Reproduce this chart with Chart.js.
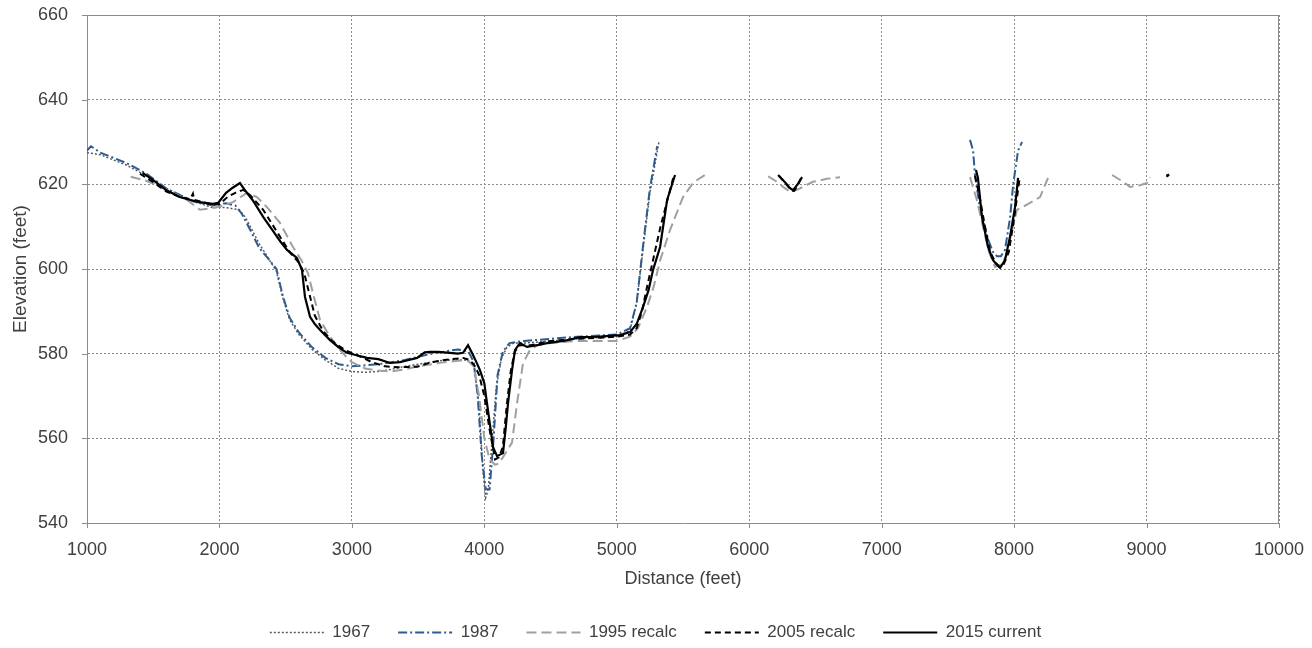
<!DOCTYPE html>
<html>
<head>
<meta charset="utf-8">
<script src="https://cdn.jsdelivr.net/npm/chart.js@4/dist/chart.umd.min.js"></script>
<style>
html,body{margin:0;padding:0;background:#fff;}
#c{display:block;}
</style>
</head>
<body>
<canvas id="c" width="1312" height="648"></canvas>
<script>
// ---- Data (distance feet, elevation feet); null marks a gap ----
const xTicks = [1000,2000,3000,4000,5000,6000,7000,8000,9000,10000];
const yTicks = [540,560,580,600,620,640,660];
const seriesNames = ['1967','1987','1995 recalc','2005 recalc','2015 current'];

const s1967 = [[1000,627.5],[1100,627],[1300,624.5],[1450,622],[1600,619],[1800,616],[1950,614.5],[2050,614.5],[2150,614],[2200,612],[2300,606],[2380,602],[2430,599.5],[2480,593],[2530,588],[2600,584.5],[2700,581],[2800,578.5],[2900,576.5],[3000,575.8],[3100,575.6],[3200,575.8],[3300,576.3],[3400,577],[3500,577.5],[3600,578],[3700,578.5],[3800,578.5],[3870,578.5],[3920,577.5],[3960,568],[3990,552],[4010,546],[4030,548],[4060,560],[4090,572],[4130,579],[4170,581.5],[4220,582.5],[4300,582.5],[4500,583],[4700,583.5],[5000,584],[5100,585.5],[5150,592],[5200,605],[5250,618],[5320,630.3]];

const s1987 = [[1000,628],[1030,629],[1100,627.5],[1300,625],[1450,622.5],[1600,619],[1800,616],[1950,615],[2050,615.5],[2120,615],[2170,613],[2220,610],[2300,605],[2380,602],[2430,600],[2480,593.5],[2530,588.5],[2600,585],[2700,581.5],[2800,579],[2900,577.5],[3000,577],[3200,577.5],[3400,578.5],[3600,580],[3800,581],[3880,580.5],[3920,578],[3950,570],[3980,556],[4010,548],[4040,548],[4070,560],[4100,575],[4140,580.5],[4190,582.5],[4300,583],[4500,583.5],[4700,584],[5000,584.5],[5100,586],[5150,592],[5200,606],[5250,619],[5305,629],null,[7667,630.5],[7690,628],[7705,622],[7742,614.5],[7803,607],[7841,604],[7871,603],[7900,603],[7931,604.5],[7969,612],[7993,620],[8030,628],[8060,630]];

const s1995 = [[1330,621.8],[1450,620.8],[1530,619.8],[1650,618],[1755,616.3],[1853,614],[1951,614.4],[2030,615],[2102,615.8],[2160,617],[2208,618],[2283,617],[2359,614.6],[2457,610.9],[2555,605.2],[2620,602],[2669,599],[2706,594.3],[2759,588],[2835,584],[2900,581.3],[2950,579.5],[3000,578],[3100,576.5],[3200,576],[3300,575.8],[3400,576.3],[3500,577],[3600,577.5],[3700,578],[3800,578.3],[3870,578.5],[3920,577],[3960,570],[4000,560],[4040,555],[4080,553.8],[4110,554],[4150,556],[4209,559],[4247,568.3],[4292,577.7],[4345,580.9],[4400,582],[4500,582.5],[4700,583],[5000,583],[5100,584],[5160,586],[5228,591],[5280,596],[5327,602],[5402,609.2],[5500,617],[5580,620.5],[5666,622.2],null,[6143,621.9],[6200,620.8],[6256,619.4],[6308,618.2],[6340,618.5],[6380,619],[6406,619.4],[6481,620.6],[6587,621.3],[6686,621.7],null,[7667,621.7],[7719,616.3],[7765,610],[7810,604],[7856,600.5],[7900,601],[7940,603],[7985,609.2],[8022,614],[8097,615.2],[8196,617],[8256,621.5],null,[8740,622.2],[8823,620.6],[8875,619.4],[8950,619.8],[9003,620.3],[9026,621.7]];

const s2005 = [[1400,622.5],[1500,620.5],[1600,618.3],[1700,617],[1780,616.5],[1800,617.8],[1810,616.3],[1850,616],[1950,615.2],[2000,615.3],[2060,617],[2120,618],[2180,618.7],[2230,617.5],[2330,614],[2400,610.5],[2460,607.5],[2530,604],[2600,601.5],[2640,599],[2680,594],[2720,589],[2780,585.5],[2850,583],[2950,580.8],[3050,579.5],[3150,578],[3250,577],[3350,576.8],[3492,576.9],[3600,578],[3700,578.5],[3839,579],[3890,578.5],[3930,577],[3960,575],[4000,570],[4040,562],[4081,555],[4110,555.5],[4140,558],[4170,568],[4200,576],[4230,580.5],[4270,582],[4350,582],[4500,583],[4700,583.5],[5000,584],[5100,584.5],[5150,586],[5190,590],[5230,596],[5280,603],[5330,610],[5380,616],[5430,622],null,[6225,622],[6280,620],[6320,618.5],[6340,618.5],[6370,620],[6400,622],null,[7705,622],[7740,617],[7780,610],[7820,604],[7860,601.5],[7890,600.5],[7920,601],[7960,604],[8000,612],[8040,621],null,[9150,621.8],[9170,622.2]];

const s2015 = [[1420,622.7],[1500,621],[1600,618.6],[1700,617],[1780,616.3],[1850,615.8],[1950,615.4],[1990,615.6],[2050,618],[2100,619.2],[2155,620.3],[2200,618.3],[2250,616.3],[2330,612.3],[2400,609.2],[2460,606.5],[2510,604.5],[2585,602.6],[2623,599.8],[2646,593.4],[2684,588.7],[2720,587],[2760,585.6],[2835,583.2],[2900,581.5],[2963,580.2],[3050,579.5],[3114,579],[3200,578.7],[3288,577.8],[3363,578],[3430,578.5],[3492,579],[3550,580.3],[3590,580.4],[3650,580.4],[3741,580.2],[3800,580],[3839,580.2],[3877,582],[3910,580],[3940,578],[3967,576.1],[4000,573],[4020,568.3],[4066,557.9],[4096,555.8],[4141,556.5],[4160,562],[4179,568.3],[4209,576.1],[4232,580.9],[4269,582.5],[4322,581.6],[4400,582],[4473,582.5],[4600,583],[4722,583.9],[4850,584],[5024,584.4],[5100,585.1],[5150,587],[5198,591],[5240,595],[5274,599.8],[5327,605.2],[5380,616.3],[5440,622.2],null,[6218,622.2],[6270,620.5],[6308,619.1],[6331,618.6],[6365,620],[6399,621.7],null,[7712,623.4],[7727,621.5],[7757,612.3],[7803,605.2],[7841,602.1],[7870,601],[7894,600.3],[7931,602.1],[7969,607.6],[8007,614.6],[8030,621.5],null,[9150,622],[9170,622.3]];

function toPts(arr){
  const out=[]; let lastX=0;
  arr.forEach(p=>{ if(p===null){ out.push({x:lastX+1,y:null}); } else { lastX=p[0]; out.push({x:p[0],y:p[1]}); } });
  return out;
}

const FONT = "'Liberation Sans', Arial, sans-serif";
const TXT = '#404040';
const AXIS = '#8c8c8c';
const PLOT_BOTTOM = 523;

// solid top/right frame plus short outside tick marks at the scale's ticks
const framePlugin = {
  id:'frame',
  beforeDatasetsDraw(chart){
    const {ctx, chartArea:a, scales} = chart;
    ctx.save();
    ctx.strokeStyle = AXIS; ctx.lineWidth = 1; ctx.setLineDash([]);
    ctx.beginPath();
    ctx.moveTo(a.left, Math.round(a.top)+0.5); ctx.lineTo(a.right, Math.round(a.top)+0.5);
    ctx.moveTo(Math.round(a.right)-0.5, a.top); ctx.lineTo(Math.round(a.right)-0.5, a.bottom);
    scales.y.ticks.forEach(t=>{ const py = Math.round(scales.y.getPixelForValue(t.value))+0.5; ctx.moveTo(a.left-5, py); ctx.lineTo(a.left, py); });
    scales.x.ticks.forEach(t=>{ const px = Math.round(scales.x.getPixelForValue(t.value))+0.5; ctx.moveTo(px, a.bottom); ctx.lineTo(px, a.bottom+5); });
    ctx.stroke();
    ctx.restore();
  }
};

// place the legend row lower and centred like the reference
const legendPlace = {
  id:'legendPlace',
  afterLayout(chart){
    const lg = chart.legend; if(!lg) return;
    const dy = 596 - lg.top;
    lg.top += dy; lg.bottom += dy;
    lg.left += 16; lg.right += 16;
  }
};

const mk = (label, arr, color, width, dash) => ({
  type:'scatter', label, data: toPts(arr), showLine:true, spanGaps:false,
  borderColor: color, backgroundColor: color, borderWidth: width, borderDash: dash,
  pointRadius:0, pointHoverRadius:0, tension:0
});

new Chart(document.getElementById('c'), {
  type:'scatter',
  data:{ datasets:[
    mk(seriesNames[0], s1967, '#5a5a5a', 1.5, [2,2]),
    mk(seriesNames[1], s1987, '#2f5b8f', 2, [9,3,2,3]),
    mk(seriesNames[2], s1995, '#a0a0a0', 2, [10,5]),
    mk(seriesNames[3], s2005, '#000000', 2, [6,4]),
    mk(seriesNames[4], s2015, '#000000', 2.2, [])
  ].map((d,i)=>Object.assign(d,{order:5-i})) },
  options:{
    responsive:false, animation:false, devicePixelRatio:1,
    layout:{ padding:{ left:0, right:33, top:15, bottom:0 } },
    plugins:{
      tooltip:{enabled:false},
      legend:{
        position:'bottom',
        labels:{
          usePointStyle:true, pointStyle:'line', pointStyleWidth:54,
          padding:28, color:TXT, font:{family:FONT, size:17},
          sort:(a,b)=>a.datasetIndex-b.datasetIndex,
          generateLabels(chart){
            const items = Chart.defaults.plugins.legend.labels.generateLabels(chart);
            items.forEach(it=>{
              const ds = chart.data.datasets[it.datasetIndex];
              it.lineDash = ds.borderDash; it.lineWidth = ds.borderWidth;
              it.strokeStyle = ds.borderColor; it.fillStyle = 'rgba(0,0,0,0)';
            });
            return items;
          }
        }
      }
    },
    scales:{
      x:{
        type:'linear', min:1000, max:10000,
        afterBuildTicks(s){ s.ticks = xTicks.map(v=>({value:v})); },
        afterFit(s){ const lh = s.chart.legend ? s.chart.legend.height : 0; s.height = 648 - PLOT_BOTTOM - lh; },
        ticks:{ color:TXT, font:{family:FONT, size:18}, padding:5, maxRotation:0, callback:(v)=>String(v) },
        grid:{ color:AXIS, lineWidth:1, tickLength:11, tickColor:'rgba(0,0,0,0)', tickBorderDash:[] },
        border:{ color:AXIS, dash:[2,2] },
        title:{ display:true, text:'Distance (feet)', color:TXT, font:{family:FONT, size:18}, padding:{top:0,bottom:3.2} }
      },
      y:{
        type:'linear', min:540, max:660,
        afterBuildTicks(s){ s.ticks = yTicks.map(v=>({value:v})); },
        afterFit(s){ s.width = 87; },
        ticks:{ color:TXT, font:{family:FONT, size:18}, padding:4 },
        grid:{ color:AXIS, lineWidth:1, tickLength:15, tickColor:'rgba(0,0,0,0)', tickBorderDash:[] },
        border:{ color:AXIS, dash:[2,2] },
        title:{ display:true, text:'Elevation (feet)', color:TXT, font:{family:FONT, size:19}, padding:{top:9,bottom:0} }
      }
    }
  },
  plugins:[framePlugin, legendPlace]
});
</script>
</body>
</html>
